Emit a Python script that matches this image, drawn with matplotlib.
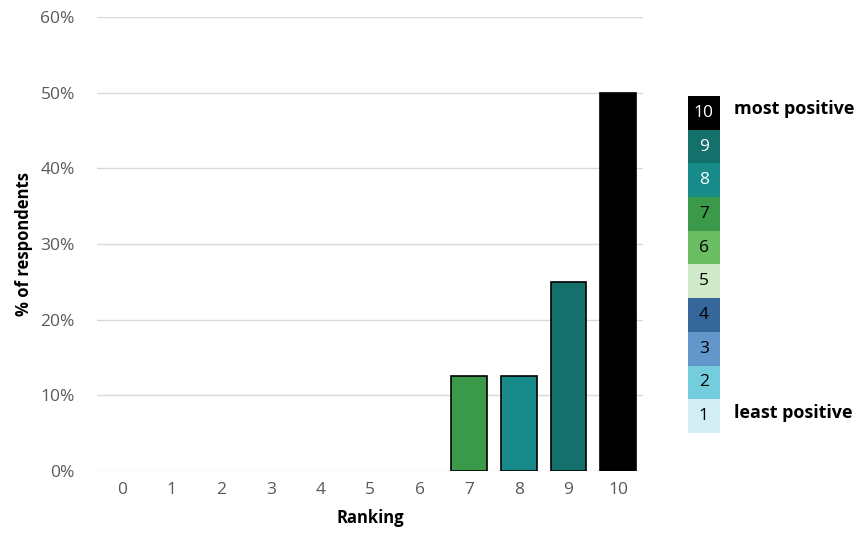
import matplotlib
matplotlib.use("Agg")
import matplotlib.pyplot as plt
from matplotlib.ticker import PercentFormatter

# data
rankings = list(range(11))
share = [0, 0, 0, 0, 0, 0, 0, 12.5, 12.5, 25, 50]

# colour per ranking level (1..10)
levels = list(range(1, 11))
level_colors = ["#d3eef5", "#74cddc", "#6397cc", "#35679a", "#d0e9c8",
                "#6bbd63", "#3a9a4a", "#178a8a", "#13706b", "#000000"]
light_text = [8, 9, 10]

plt.rcParams['font.family'] = ['Open Sans', 'DejaVu Sans']

fig = plt.figure(figsize=(8.63, 5.43), dpi=100)
ax = fig.add_axes([0.1124, 0.1326, 0.6326, 0.8361])

bar_colors = ["white"] + level_colors
edges = ["black" if v > 0 else "none" for v in share]
ax.bar(rankings, share, width=0.72, color=bar_colors, edgecolor=edges, linewidth=1.2, zorder=3)

ax.set_xlim(-0.5, 10.5)
ax.set_ylim(0, 60)
ax.set_yticks(range(0, 61, 10))
ax.yaxis.set_major_formatter(PercentFormatter(decimals=0))
ax.set_xticks(rankings)
ax.grid(axis="y", color="#d9d9d9", linewidth=1, zorder=0)
for s in ax.spines.values():
    s.set_visible(False)
ax.tick_params(length=0, labelsize=12.5, colors="#595959", pad=8)
ax.tick_params(axis="y", pad=16)
ax.set_xlabel("Ranking", fontsize=12, fontweight="bold", labelpad=8)
ax.set_ylabel("% of respondents", fontsize=12, fontweight="bold", labelpad=5)

# colour key
lax = fig.add_axes([0.797, 0.2026, 0.037, 0.6206])
lax.bar([0] * len(levels), [1] * len(levels), bottom=[l - 1 for l in levels],
        width=1, color=level_colors, linewidth=0)
for l in levels:
    lax.text(0, l - 0.5, str(l), ha="center", va="center", fontsize=12.5,
             color="white" if l in light_text else "black")
lax.set_xlim(-0.5, 0.5)
lax.set_ylim(0, 10)
lax.axis("off")
lax.text(0.94, 9.6, "most positive", ha="left", va="center", fontsize=13, fontweight="bold")
lax.text(0.94, 0.6, "least positive", ha="left", va="center", fontsize=13, fontweight="bold")

fig.savefig("out.png", dpi=100)
